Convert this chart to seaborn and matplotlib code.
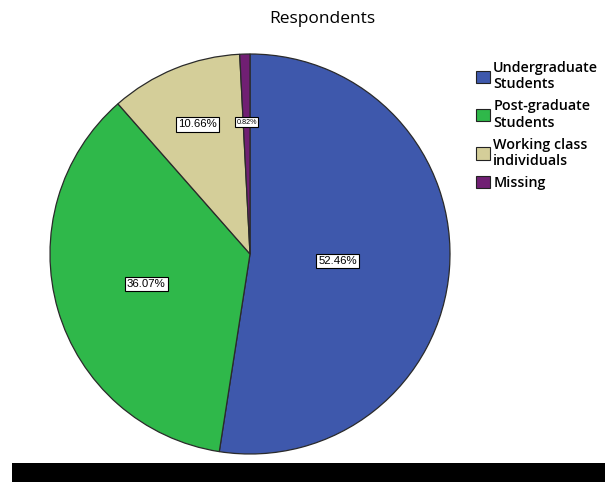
import numpy as np
import matplotlib
matplotlib.use("Agg")
import matplotlib.pyplot as plt
from matplotlib.patches import Patch, Rectangle
import seaborn as sns

categories = ["Undergraduate\nStudents", "Post-graduate\nStudents",
              "Working class\nindividuals", "Missing"]
shares = [52.46, 36.07, 10.66, 0.82]
pct_labels = ["52.46%", "36.07%", "10.66%", "0.82%"]
colors = ["#3e58ac", "#2fb84a", "#d4ce99", "#701f73"]

sns.set_theme(style="white")
plt.rcParams["font.family"] = ["Open Sans", "DejaVu Sans"]
plt.rcParams["text.color"] = "black"

fig = plt.figure(figsize=(6.05, 4.82), dpi=100)
ax = fig.add_axes([50 / 605, 28 / 482, 400 / 605, 400 / 482])

wedges, _ = ax.pie(shares, colors=colors, startangle=90, counterclock=False,
                   wedgeprops=dict(edgecolor="#2a2a2a", linewidth=0.9))
ax.set_aspect("equal")
ax.set_xlim(-1, 1)
ax.set_ylim(-1, 1)

# label placement: radial distance and font size per slice
label_dist = [0.44, 0.54, 0.70, 0.66]
label_size = [8.2, 8.2, 8.2, 5.2]
for w, txt, d, fs in zip(wedges, pct_labels, label_dist, label_size):
    ang = np.deg2rad((w.theta1 + w.theta2) / 2)
    ax.text(d * np.cos(ang), d * np.sin(ang), txt, ha="center", va="center",
            fontsize=fs, color="black",
            family=["Liberation Sans", "DejaVu Sans"],
            bbox=dict(boxstyle="square,pad=0.2", fc="white", ec="black", lw=0.8))

fig.text(322 / 605, 1 - 19 / 482, "Respondents", ha="center", va="center",
         fontsize=12.5, color="black", fontweight="medium")

handles = [Patch(facecolor=c, edgecolor="#222222", linewidth=0.8) for c in colors]
leg = fig.legend(handles, categories, loc="upper left",
                 bbox_to_anchor=(476 / 605, 1 - 61 / 482), frameon=False,
                 fontsize=10.3, handlelength=0.95, handleheight=0.95,
                 handletextpad=0.25, labelspacing=0.55, borderpad=0,
                 borderaxespad=0)
for t in leg.get_texts():
    t.set_fontweight("semibold")
    t.set_color("black")
    t.set_linespacing(1.22)

# black band along the bottom edge
fig.patches.append(Rectangle((12 / 605, 0), 1 - 12 / 605, 19 / 482,
                             transform=fig.transFigure, facecolor="black",
                             edgecolor="none"))

fig.savefig("out.png", dpi=100)
